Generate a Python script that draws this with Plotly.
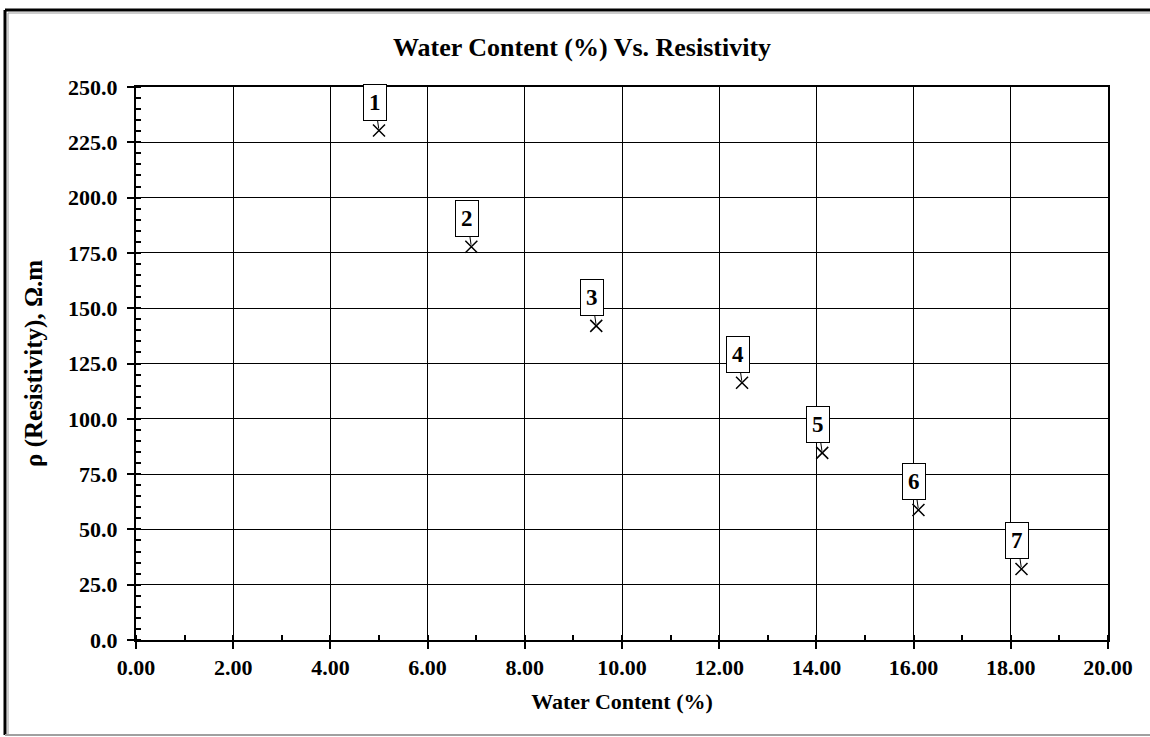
import plotly.graph_objects as go

# Sample measurements: water content (%) and resistivity (ohm.m)
sample_ids = ["1", "2", "3", "4", "5", "6", "7"]
water_content = [5.00, 6.90, 9.47, 12.47, 14.12, 16.10, 18.22]
resistivity = [230.3, 177.8, 142.0, 116.3, 84.6, 58.8, 32.1]

x_ticks = [0, 2, 4, 6, 8, 10, 12, 14, 16, 18, 20]
y_ticks = [0, 25, 50, 75, 100, 125, 150, 175, 200, 225, 250]

W, H = 1150, 737
L, R, T, B = 136, 42, 87, 97
FONT = "Liberation Serif, Times New Roman, serif"

fig = go.Figure()
fig.add_trace(go.Scatter(
    x=water_content, y=resistivity, mode="markers",
    marker=dict(symbol="x-thin-open", size=12, color="black",
                line=dict(color="black", width=1.5)),
    showlegend=False, cliponaxis=False,
))

# numbered callouts above each sample point
for sid, xv, yv in zip(sample_ids, water_content, resistivity):
    fig.add_annotation(
        x=xv, y=yv, xref="x", yref="y", text=f"<b>{sid}</b>",
        showarrow=True, arrowhead=0, arrowwidth=1, arrowcolor="black",
        ax=-4, ay=-28, standoff=2,
        bordercolor="black", borderwidth=1, borderpad=5, bgcolor="white",
        font=dict(family=FONT, size=23, color="black"),
    )

# page frame
pw, ph = W - L - R, H - T - B
def px(xp):
    return (xp - L) / pw
def py(yp):
    return (H - B - yp) / ph

frame = [
    (5, 10, 1152, 10, "black", 3),
    (5, 10, 5, 735, "black", 3),
    (8, 13, 1152, 13, "#9a9a9a", 1),
    (8, 13, 8, 735, "#9a9a9a", 1),
    (5, 735, 1152, 735, "#a0a0a0", 2),
]
for x0, y0, x1, y1, c, w in frame:
    fig.add_shape(type="line", xref="paper", yref="paper",
                  x0=px(x0), y0=py(y0), x1=px(x1), y1=py(y1),
                  line=dict(color=c, width=w))

axis_common = dict(
    showline=True, linecolor="black", linewidth=2, mirror=True,
    showgrid=True, gridcolor="black", gridwidth=1, zeroline=False,
    ticks="outside", ticklen=7, tickwidth=2, tickcolor="black",
    tickfont=dict(family=FONT, size=22, color="black"),
)

fig.update_xaxes(
    range=[0, 20], tickvals=x_ticks,
    ticktext=[f"<b>{v:.2f}</b>" for v in x_ticks],
    minor=dict(dtick=1, ticks="inside", ticklen=5, tickwidth=1.5,
               tickcolor="black", showgrid=False),
    title=dict(text="<b>Water Content (%)</b>", standoff=14,
               font=dict(family=FONT, size=22, color="black")),
    **axis_common,
)
fig.update_yaxes(
    range=[0, 250], tickvals=y_ticks,
    ticktext=[f"<b>{v:.1f}</b>" for v in y_ticks],
    ticklabelstandoff=5,
    minor=dict(dtick=5, ticks="inside", ticklen=5, tickwidth=1.5,
               tickcolor="black", showgrid=False),
    title=dict(text="<b>\u03c1 (Resistivity), \u03a9.m</b>", standoff=18,
               font=dict(family=FONT, size=25, color="black")),
    **axis_common,
)

fig.update_layout(
    width=W, height=H, autosize=False,
    margin=dict(l=L, r=R, t=T, b=B),
    paper_bgcolor="white", plot_bgcolor="white",
    title=dict(text="<b>Water Content (%) Vs. Resistivity</b>",
               x=582 / W, xref="container", xanchor="center",
               y=1 - 47 / H, yref="container", yanchor="middle",
               font=dict(family=FONT, size=26, color="black")),
)

fig.write_html("out.html", config={"displayModeBar": False})
